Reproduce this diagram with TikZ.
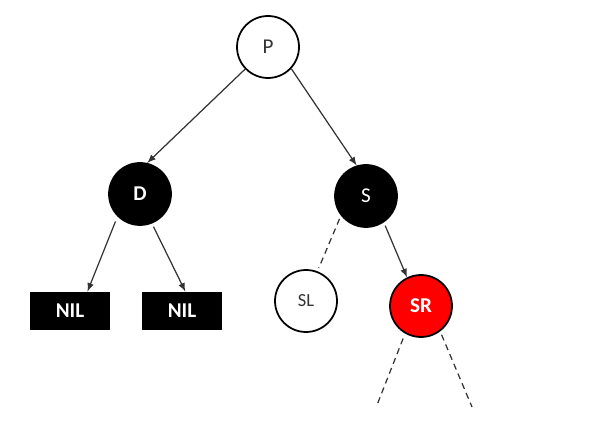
\documentclass[tikz,border=0pt]{standalone}
\usepackage{fontspec}
\setmainfont{Carlito}
\usetikzlibrary{positioning}

\begin{document}
\begin{tikzpicture}[
  x=0.02cm, y=-0.02cm,
  every node/.style={font=\fontsize{12}{14}\selectfont},
  rbnode/.style={circle,draw=black,line width=1pt,minimum size=1.24cm,inner sep=0pt},
  whitenode/.style={rbnode,fill=white,text=black!80},
  blacknode/.style={rbnode,fill=black,text=white},
  rednode/.style={rbnode,fill=red,text=white,font=\fontsize{12}{14}\selectfont\bfseries},
  nilbox/.style={rectangle,fill=black,text=white,minimum width=1.6cm,minimum height=0.76cm,inner sep=0pt,font=\fontsize{12}{14}\selectfont\bfseries},
  link/.style={draw=black!80,line width=0.7pt},
  arrowlink/.style={link,-{latex[scale=1.2]}},
  dashlink/.style={link,dash pattern=on 3.5pt off 2.5pt}
]
\useasboundingbox (0,0) rectangle (614,428);

% nodes
\node[whitenode] (P) at (268,47) {P};
\node[blacknode,font=\fontsize{12}{14}\selectfont\bfseries] (D) at (140,194) {D};
\node[blacknode] (S) at (366,196) {S};
\node[nilbox] (NIL1) at (70,311) {NIL};
\node[nilbox] (NIL2) at (182,311) {NIL};
\node[whitenode,font=\fontsize{10.5}{12}\selectfont] (SL) at (306,301) {SL};
\node[rednode] (SR) at (421,306) {SR};

% free ends below SR
\coordinate (SRleft) at (377,405);
\coordinate (SRright) at (472,407);

% connectors
\draw[arrowlink] (P.224) -- (D.77);
\draw[arrowlink] (P.317) -- (S.107);
\draw[arrowlink,shorten <=3pt] (D.225) -- (NIL1.48);
\draw[arrowlink,shorten <=2pt] (D.292) -- (NIL2.80);
\draw[dashlink,shorten <=2pt,shorten >=2pt] (S.218) -- (SL.69);
\draw[arrowlink,shorten <=2pt] (S.304) -- (SR.116);
\draw[dashlink,shorten <=3pt] (SR.240) -- (SRleft);
\draw[dashlink,shorten <=2pt] (SR.307) -- (SRright);
\end{tikzpicture}
\end{document}
